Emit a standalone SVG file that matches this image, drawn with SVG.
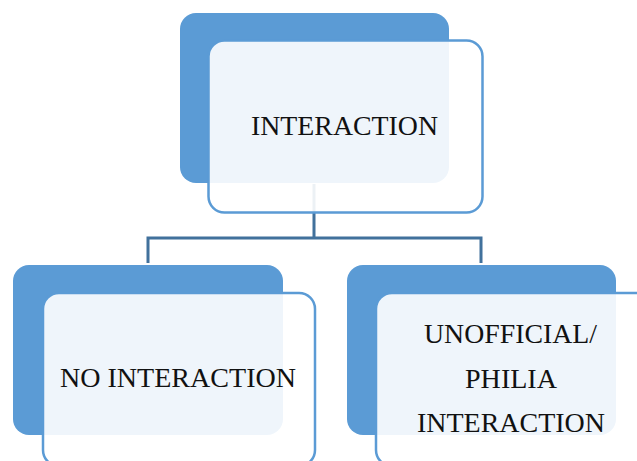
<svg xmlns="http://www.w3.org/2000/svg" width="637" height="461" viewBox="0 0 637 461">
  <style>
    .back { fill: #5B9BD5; }
    .front { fill: #FFFFFF; fill-opacity: 0.9; stroke: #5B9BD5; stroke-width: 2.5; }
    .label { font-family: "Liberation Serif", "Times New Roman", serif; font-size: 27px; fill: #111111; }
    .link { fill: none; stroke: #41719C; stroke-width: 3; }
  </style>
  <rect width="637" height="461" fill="#FFFFFF"/>

  <!-- connectors drawn beneath the node cards -->
  <g id="connectors">
    <path class="link" d="M314,184 V238 M148,238 H481 M148,236.5 V263 M481,236.5 V263"/>
  </g>

  <g id="node-interaction">
    <rect class="back" x="180" y="13" width="269" height="170" rx="16"/>
    <rect class="front" x="208.5" y="40.5" width="274" height="172" rx="16"/>
    <text class="label" x="251" y="135" textLength="187" lengthAdjust="spacingAndGlyphs">INTERACTION</text>
  </g>

  <g id="node-no-interaction">
    <rect class="back" x="13" y="265" width="270" height="170" rx="16"/>
    <rect class="front" x="43" y="293" width="272" height="173" rx="16"/>
    <text class="label" x="60" y="387" textLength="236" lengthAdjust="spacingAndGlyphs">NO INTERACTION</text>
  </g>

  <g id="node-philia-interaction">
    <rect class="back" x="347" y="265" width="269" height="170" rx="16"/>
    <rect class="front" x="376" y="293" width="275" height="173" rx="16"/>
    <text class="label" x="424" y="343" textLength="173" lengthAdjust="spacingAndGlyphs">UNOFFICIAL/</text>
    <text class="label" x="465" y="388" textLength="92" lengthAdjust="spacingAndGlyphs">PHILIA</text>
    <text class="label" x="417" y="432" textLength="188" lengthAdjust="spacingAndGlyphs">INTERACTION</text>
  </g>
</svg>
